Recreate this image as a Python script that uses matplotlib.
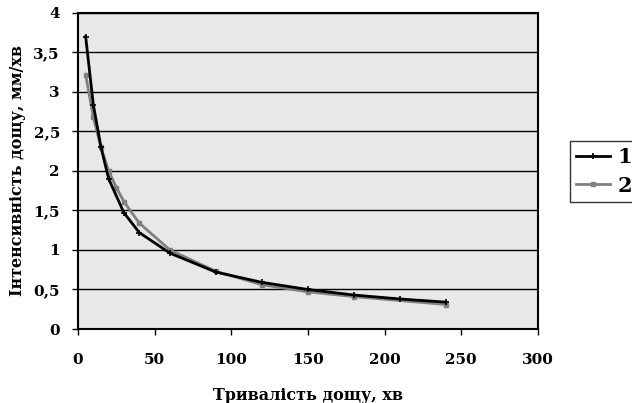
import matplotlib
matplotlib.use('agg')
import matplotlib.pyplot as plt
from matplotlib.ticker import FuncFormatter

# rain duration (min) and intensity (mm/min)
t1 = [5, 10, 15, 20, 30, 40, 60, 90, 120, 150, 180, 210, 240]
i1 = [3.7, 2.84, 2.3, 1.9, 1.47, 1.22, 0.96, 0.72, 0.59, 0.5, 0.43, 0.38, 0.34]
t2 = [5, 10, 15, 20, 25, 30, 40, 60, 90, 120, 150, 180, 240]
i2 = [3.22, 2.68, 2.3, 2.0, 1.79, 1.61, 1.34, 1.0, 0.73, 0.56, 0.47, 0.41, 0.31]
labels = ['1', '2']

plt.rcParams['font.family'] = ['DejaVu Serif']
plt.rcParams['font.weight'] = 'bold'

fig = plt.figure(figsize=(6.32, 4.03), dpi=100)
ax = fig.add_axes([0.1234, 0.1836, 0.7276, 0.7844])
ax.set_facecolor('#e8e8e8')

ax.plot(t1, i1, color='black', lw=2, marker='+', ms=4, mew=1.2, label=labels[0], zorder=4)
ax.plot(t2, i2, color='#808080', lw=2, marker='s', ms=3.5, label=labels[1], zorder=3)

ax.set_xlim(0, 300)
ax.set_ylim(0, 4)
ax.set_xticks(range(0, 301, 50))
ax.set_yticks([0, 0.5, 1, 1.5, 2, 2.5, 3, 3.5, 4])
ax.yaxis.set_major_formatter(FuncFormatter(lambda v, p: ('%g' % v).replace('.', ',')))
ax.grid(axis='y', color='black', lw=1)
ax.set_axisbelow(True)
for s in ax.spines.values():
    s.set_linewidth(1.5)
ax.tick_params(direction='out', length=4, width=1, labelsize=11, pad=9)
ax.tick_params(axis='x', pad=13)

ax.set_xlabel('Тривалість дощу, хв', fontsize=11.5, fontweight='bold', labelpad=15)
ax.set_ylabel('Інтенсивність дощу, мм/хв', fontsize=11.5, fontweight='bold', labelpad=5)

leg = fig.legend(loc='upper left', bbox_to_anchor=(570 / 632, 1 - 141 / 403),
                 frameon=True, fancybox=False, edgecolor='black',
                 prop={'size': 15, 'weight': 'bold'}, handlelength=1.6,
                 handletextpad=0.4, borderaxespad=0, labelspacing=0.4,
                 borderpad=0.3)
leg.get_frame().set_linewidth(1)

fig.savefig('out.png', dpi=100)
